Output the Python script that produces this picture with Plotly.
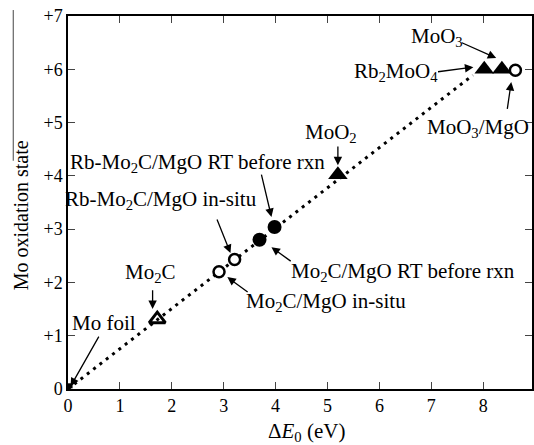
import plotly.graph_objects as go

# Data
line_x = [0.0, 7.8]
line_y = [0.0, 5.89]

filled_tri_x = [5.2, 8.02, 8.36]
filled_tri_y = [4.02, 6.0, 6.0]

open_tri_x = [1.72]
open_tri_y = [1.31]

open_circ_x = [2.91, 3.21, 8.62]
open_circ_y = [2.2, 2.43, 5.98]

filled_circ_x = [3.69, 3.98]
filled_circ_y = [2.8, 3.04]

foil_x = [0.04]
foil_y = [0.06]

y_ticks = [0, 1, 2, 3, 4, 5, 6, 7]
y_ticktext = ["0", "+1", "+2", "+3", "+4", "+5", "+6", "+7"]
x_ticks = [0, 1, 2, 3, 4, 5, 6, 7, 8]

# labels: text, text x, text y, arrow head x, y, arrow tail x, y
labels = [
    ("Mo foil", 0.70, 1.24, 0.05, 0.05, 0.61, 1.01),
    ("Mo<sub>2</sub>C", 1.59, 2.18, 1.63, 1.50, 1.63, 1.88),
    ("Mo<sub>2</sub>C/MgO in-situ", 4.98, 1.63, 3.07, 2.10, 3.49, 1.80),
    ("Rb-Mo<sub>2</sub>C/MgO in-situ", 1.80, 3.55, 3.13, 2.55, 2.86, 3.21),
    ("Rb-Mo<sub>2</sub>C/MgO RT before rxn", 2.49, 4.24, 3.92, 3.23, 3.72, 4.05),
    ("Mo<sub>2</sub>C/MgO RT before rxn", 6.45, 2.19, 3.92, 2.66, 4.32, 2.38),
    ("MoO<sub>2</sub>", 5.06, 4.80, 5.20, 4.20, 5.20, 4.58),
    ("Rb<sub>2</sub>MoO<sub>4</sub>", 6.31, 5.95, 7.81, 6.04, 7.10, 5.95),
    ("MoO<sub>3</sub>", 7.11, 6.60, 8.25, 6.21, 7.56, 6.51),
    ("MoO<sub>3</sub>/MgO", 7.90, 4.90, 8.54, 5.76, 8.46, 5.23),
]

x_title = "Δ<i>E</i><sub>0</sub> (eV)"
y_title = "Mo oxidation state"

fig = go.Figure()

fig.add_trace(go.Scatter(
    x=line_x, y=line_y, mode="lines",
    line=dict(color="black", width=3, dash="3px,5px"),
    showlegend=False, hoverinfo="skip"))

fig.add_trace(go.Scatter(
    x=foil_x, y=foil_y, mode="markers",
    marker=dict(symbol="square", size=5, color="black"),
    showlegend=False))

fig.add_trace(go.Scatter(
    x=open_tri_x, y=open_tri_y, mode="markers",
    marker=dict(symbol="triangle-up-open", size=14, color="black",
                line=dict(width=3, color="black")),
    showlegend=False))

fig.add_trace(go.Scatter(
    x=filled_tri_x, y=filled_tri_y, mode="markers",
    marker=dict(symbol="triangle-up", size=17, color="black"),
    showlegend=False))

fig.add_trace(go.Scatter(
    x=open_circ_x, y=open_circ_y, mode="markers",
    marker=dict(symbol="circle", size=11, color="white",
                line=dict(width=2.5, color="black")),
    showlegend=False))

fig.add_trace(go.Scatter(
    x=filled_circ_x, y=filled_circ_y, mode="markers",
    marker=dict(symbol="circle", size=14, color="black"),
    showlegend=False))

font_fam = "Liberation Serif, Times New Roman, serif"

for text, tx, ty, hx, hy, ax_, ay_ in labels:
    fig.add_annotation(x=tx, y=ty, text=text, showarrow=False,
                       font=dict(family=font_fam, size=21, color="black"),
                       xref="x", yref="y")
    fig.add_annotation(x=hx, y=hy, ax=ax_, ay=ay_, axref="x", ayref="y",
                       xref="x", yref="y", text="", showarrow=True,
                       arrowhead=2, arrowsize=1.3, arrowwidth=1.3,
                       arrowcolor="black")

# axis titles
fig.add_annotation(x=0.515, y=-0.114, xref="paper", yref="paper",
                   text=x_title, showarrow=False, xanchor="center",
                   yanchor="middle",
                   font=dict(family=font_fam, size=21, color="black"))
fig.add_annotation(x=-0.101, y=0.466, xref="paper", yref="paper",
                   text=y_title, showarrow=False, textangle=-90,
                   xanchor="center", yanchor="middle",
                   font=dict(family=font_fam, size=20, color="black"))

# artifact line at left
fig.add_shape(type="line", xref="paper", yref="paper",
              x0=-0.118, x1=-0.118, y0=1.016, y1=0.612,
              line=dict(color="#444", width=1))

fig.update_layout(
    width=534, height=445,
    margin=dict(l=68, r=0, t=16, b=56),
    plot_bgcolor="white", paper_bgcolor="white",
    font=dict(family=font_fam, size=18, color="black"),
    showlegend=False,
)

fig.update_xaxes(
    range=[0, 8.94], tickvals=x_ticks, ticks="inside", ticklen=7,
    tickwidth=1.3, showline=True, linewidth=1.5, linecolor="black",
    mirror="ticks", showgrid=False, zeroline=False,
    tickfont=dict(family=font_fam, size=18),
)
fig.update_yaxes(
    range=[0, 7], tickvals=y_ticks, ticktext=y_ticktext, ticks="inside",
    ticklen=7, tickwidth=1.3, showline=True, linewidth=1.5,
    linecolor="black", mirror="ticks", showgrid=False, zeroline=False,
    tickfont=dict(family=font_fam, size=18),
)

fig.write_html("out.html")
